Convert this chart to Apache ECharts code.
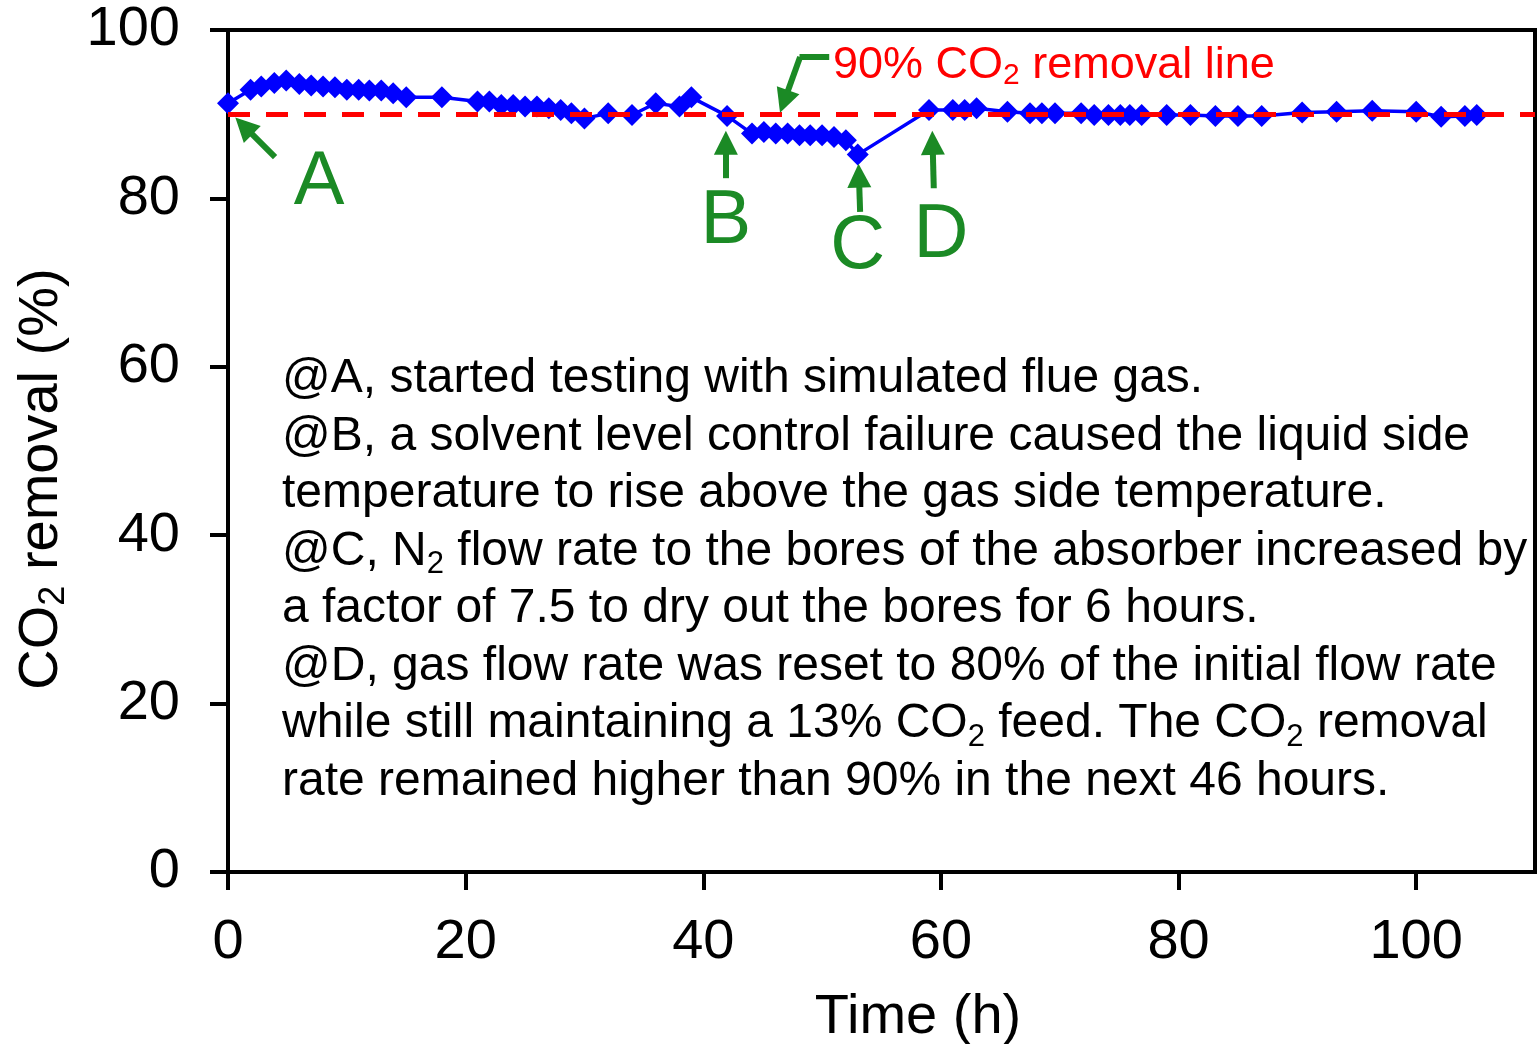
<!DOCTYPE html>
<html>
<head>
<meta charset="utf-8">
<script src="https://cdn.jsdelivr.net/npm/echarts/dist/echarts.min.js"></script>
<style>
  html, body { margin: 0; padding: 0; background: #fff; }
  #chart01 { width: 1537px; height: 1044px; }
</style>
</head>
<body>
<div id="chart01"></div>
<script>
var timeH = [0, 1.9, 2.8, 3.9, 4.9, 6.0, 7.0, 8.0, 9.0, 10.0, 11.0, 11.9, 12.9, 13.9, 15.0, 18.0,
  21.0, 22.0, 23.0, 24.0, 25.0, 26.0, 27.0, 28.0, 28.9, 30.0, 32.0, 34.0, 36.0, 38.0, 39.0,
  42.0, 44.1, 45.1, 46.1, 47.1, 48.1, 49.0, 50.0, 51.0, 52.0, 53.0, 59.0, 61.0, 62.0, 63.0,
  65.6, 67.5, 68.5, 69.6, 71.8, 72.9, 74.1, 75.1, 75.9, 76.9, 79.0, 81.0, 83.1, 85.0, 87.0,
  90.4, 93.3, 96.3, 100.0, 102.1, 104.1, 105.1];
var removal = [91.3, 92.9, 93.3, 93.7, 94.0, 93.6, 93.4, 93.3, 93.2, 92.9, 92.9, 92.8, 92.8, 92.5, 92.0, 92.0,
  91.5, 91.5, 91.1, 91.1, 90.9, 90.9, 90.7, 90.5, 90.1, 89.5, 90.1, 89.9, 91.3, 90.9, 92.0,
  89.8, 87.7, 87.9, 87.7, 87.7, 87.5, 87.5, 87.5, 87.3, 86.9, 85.2, 90.5, 90.5, 90.5, 90.7,
  90.3, 90.1, 90.1, 90.1, 90.1, 89.9, 89.9, 89.9, 89.9, 89.9, 89.9, 89.9, 89.8, 89.8, 89.8,
  90.2, 90.3, 90.4, 90.3, 89.7, 89.8, 89.9];
var targetLine = 90;
var xTicks = [0, 20, 40, 60, 80, 100];
var yTicks = [0, 20, 40, 60, 80, 100];

var notes = [
  '{n|@A, started testing with simulated flue gas.}',
  '{n|@B, a solvent level control failure caused the liquid side}',
  '{n|temperature to rise above the gas side temperature.}',
  '{n|@C, N}{s|2}{n| flow rate to the bores of the absorber increased by}',
  '{n|a factor of 7.5 to dry out the bores for 6 hours.}',
  '{n|@D, gas flow rate was reset to 80% of the initial flow rate}',
  '{n|while still maintaining a 13% CO}{s|2}{n| feed. The CO}{s|2}{n| removal}',
  '{n|rate remained higher than 90% in the next 46 hours.}'
];

var FONT = 'Liberation Sans, Arial, sans-serif';
var GREEN = '#1b8a25';

var points = timeH.map(function (t, i) { return [t, removal[i]]; });

function arrow(x1, y1, x2, y2) {
  return [
    { coord: [x1, y1], symbol: 'none' },
    { coord: [x2, y2], symbol: 'triangle' }
  ];
}
function letter(name, x, y) {
  return { name: name, coord: [x, y] };
}

var myChart01 = echarts.init(document.getElementById('chart01'));
var option = {
  animation: false,
  backgroundColor: '#fff',
  textStyle: { fontFamily: FONT },
  grid: {
    left: 228, top: 30, right: 2, bottom: 172,
    outerBoundsMode: 'none',
    containLabel: false,
    show: true, borderColor: '#000', borderWidth: 4
  },
  xAxis: {
    type: 'value',
    min: 0, max: 110, interval: 20,
    name: 'Time (h)',
    nameLocation: 'middle',
    nameGap: 118,
    nameTextStyle: { fontSize: 56, color: '#000', fontFamily: FONT, padding: [0, 0, 0, 73] },
    axisLine: { show: true, lineStyle: { color: '#000', width: 4 } },
    axisTick: { show: true, length: 18, lineStyle: { color: '#000', width: 4 } },
    axisLabel: {
      fontSize: 56, color: '#000', fontFamily: FONT, margin: 43, showMaxLabel: false,
      formatter: function (v) { return xTicks.indexOf(v) >= 0 ? String(v) : ''; }
    },
    splitLine: { show: false }
  },
  yAxis: {
    type: 'value',
    min: 0, max: 100, interval: 20,
    name: '{n|CO}{s|2}{n| removal (%)}',
    nameLocation: 'middle',
    nameGap: 156,
    nameTextStyle: {
      color: '#000', padding: [0, 56, 0, 0],
      rich: {
        n: { fontSize: 56, fontFamily: FONT, color: '#000', lineHeight: 60 },
        s: { fontSize: 36, fontFamily: FONT, color: '#000', lineHeight: 36, verticalAlign: 'bottom' }
      }
    },
    axisLine: { show: true, lineStyle: { color: '#000', width: 4 } },
    axisTick: { show: true, length: 18, lineStyle: { color: '#000', width: 4 } },
    axisLabel: {
      fontSize: 56, color: '#000', fontFamily: FONT, margin: 48, padding: [4, 0, 0, 0],
      formatter: function (v) { return yTicks.indexOf(v) >= 0 ? String(v) : ''; }
    },
    splitLine: { show: false }
  },
  series: [
    {
      name: 'CO2 removal',
      type: 'line',
      data: points,
      symbol: 'diamond',
      symbolSize: 22,
      itemStyle: { color: '#0000ff' },
      lineStyle: { color: '#0000ff', width: 3.5 },
      z: 3,
      markLine: {
        silent: true,
        symbol: 'none',
        label: { show: false },
        lineStyle: { color: '#ff0000', width: 5, type: [22, 16] },
        data: [{ yAxis: targetLine }],
        z: 4
      }
    },
    {
      name: 'annotations',
      type: 'line',
      data: [],
      z: 5,
      markLine: {
        silent: true,
        symbolSize: 24,
        label: { show: false },
        lineStyle: { color: GREEN, width: 6, type: 'solid' },
        data: [
          arrow(3.96, 84.9, 1.33, 88.6),
          arrow(41.9, 82.4, 41.9, 86.6),
          arrow(53.2, 78.4, 53.1, 82.7),
          arrow(59.4, 81.2, 59.3, 86.6),
          [{ coord: [50.6, 96.8], symbol: 'none' }, { coord: [48.1, 96.8], symbol: 'none' }],
          arrow(48.15, 96.8, 46.8, 91.5)
        ]
      },
      markPoint: {
        silent: true,
        symbol: 'circle',
        symbolSize: 1,
        itemStyle: { color: 'rgba(0,0,0,0)' },
        label: {
          show: true, position: 'inside', formatter: '{b}',
          fontSize: 76, color: GREEN, fontFamily: FONT
        },
        data: [
          letter('A', 7.66, 81.8),
          letter('B', 41.9, 77.2),
          letter('C', 53.0, 74.2),
          letter('D', 60.0, 75.5)
        ]
      }
    }
  ],
  graphic: [
    {
      type: 'text',
      left: 833, top: 43,
      z: 10,
      style: {
        text: '{r|90% CO}{rs|2}{r| removal line}',
        rich: {
          r: { fontSize: 45, fontFamily: FONT, fill: '#ff0000', lineHeight: 50 },
          rs: { fontSize: 30, fontFamily: FONT, fill: '#ff0000', lineHeight: 30, verticalAlign: 'bottom' }
        }
      }
    },
    {
      type: 'text',
      left: 282, top: 355,
      z: 10,
      style: {
        text: notes.join('\n'),
        rich: {
          n: { fontSize: 48, fontFamily: FONT, fill: '#000', lineHeight: 57.5 },
          s: { fontSize: 31, fontFamily: FONT, fill: '#000', lineHeight: 31, verticalAlign: 'bottom' }
        }
      }
    }
  ]
};
// 为echarts对象加载数据
myChart01.setOption(option);
</script>
</body>
</html>
